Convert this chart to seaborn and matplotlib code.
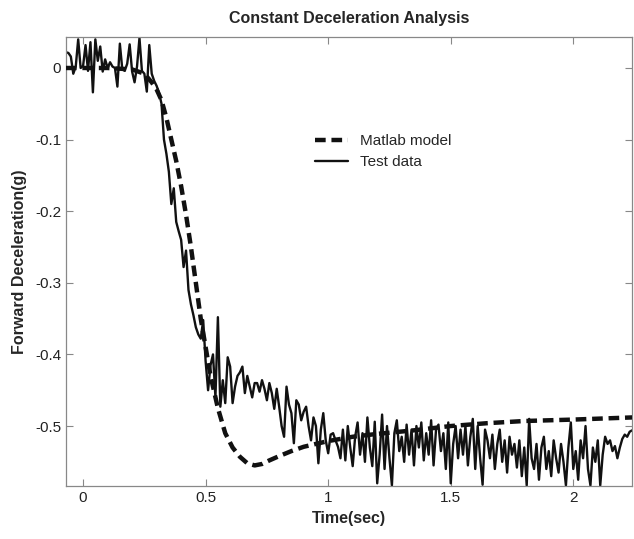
import numpy as np
import pandas as pd
import matplotlib
matplotlib.use("Agg")
import matplotlib.pyplot as plt
import seaborn as sns

# Matlab model (smooth curve)
model_t = [-0.07, 0.0, 0.1, 0.2, 0.25, 0.28, 0.30, 0.32, 0.34, 0.36, 0.38, 0.40,
           0.42, 0.44, 0.46, 0.48, 0.50, 0.52, 0.55, 0.58, 0.61, 0.64, 0.67, 0.70,
           0.73, 0.76, 0.80, 0.85, 0.90, 0.95, 1.0, 1.1, 1.2, 1.35, 1.5, 1.65,
           1.8, 2.0, 2.24]
model_g = [0.0, 0.0, 0.0, -0.002, -0.008, -0.02, -0.03, -0.045, -0.07, -0.10, -0.13, -0.165,
           -0.205, -0.25, -0.30, -0.35, -0.39, -0.43, -0.475, -0.51, -0.530, -0.543, -0.552, -0.555,
           -0.553, -0.548, -0.542, -0.535, -0.529, -0.525, -0.521, -0.515, -0.511, -0.506, -0.500, -0.496,
           -0.493, -0.491, -0.488]

# Test data, sampled every 0.01 s from -0.07 s
test_start = -0.07
test_step = 0.01
test_g = [
    0.022, 0.021, 0.016, -0.008, 0.002, 0.040, 0.000, 0.003, 0.032, -0.004,
    0.036, -0.034, 0.040, 0.010, 0.030, -0.005, 0.012, 0.000, 0.008, 0.002,
    0.000, -0.026, 0.034, -0.002, -0.004, 0.006, 0.033, -0.005, -0.020, 0.002,
    0.042, -0.004, -0.008, -0.033, 0.032, -0.008, -0.018, -0.025, -0.035, -0.050,
    -0.100, -0.120, -0.145, -0.190, -0.168, -0.215, -0.228, -0.240, -0.278, -0.255,
    -0.310, -0.330, -0.345, -0.362, -0.372, -0.378, -0.352, -0.410, -0.450, -0.415,
    -0.400, -0.460, -0.348, -0.473, -0.436, -0.468, -0.404, -0.417, -0.468, -0.445,
    -0.430, -0.425, -0.417, -0.454, -0.430, -0.445, -0.460, -0.440, -0.440, -0.452,
    -0.436, -0.448, -0.464, -0.440, -0.454, -0.476, -0.448, -0.473, -0.500, -0.515,
    -0.445, -0.470, -0.482, -0.524, -0.464, -0.470, -0.492, -0.480, -0.473, -0.500,
    -0.520, -0.488, -0.500, -0.552, -0.505, -0.482, -0.520, -0.538, -0.512, -0.510,
    -0.520, -0.529,
    -0.545, -0.505, -0.548, -0.500, -0.530, -0.556, -0.515, -0.495, -0.540, -0.510,
    -0.550, -0.488, -0.530, -0.556, -0.494, -0.580, -0.540, -0.484, -0.560, -0.500,
    -0.545, -0.583, -0.510, -0.492, -0.535, -0.515, -0.550, -0.498, -0.540, -0.505,
    -0.555, -0.500, -0.530, -0.495, -0.548, -0.510, -0.540, -0.492, -0.555, -0.505,
    -0.498, -0.535, -0.510, -0.560, -0.495, -0.580, -0.525, -0.500, -0.545, -0.505,
    -0.540, -0.500, -0.555, -0.515, -0.490, -0.560, -0.500, -0.545, -0.582, -0.505,
    -0.520, -0.545, -0.512, -0.560, -0.525, -0.505, -0.550, -0.520, -0.565, -0.515,
    -0.540, -0.525, -0.558, -0.520, -0.570, -0.530, -0.583, -0.490, -0.545, -0.560,
    -0.525, -0.575, -0.530, -0.515, -0.560, -0.535, -0.570, -0.520, -0.545, -0.565,
    -0.525, -0.550, -0.583, -0.530, -0.495, -0.560, -0.535, -0.575, -0.520, -0.545,
    -0.500, -0.560, -0.583, -0.530, -0.550, -0.520, -0.583, -0.540, -0.515, -0.525,
    -0.520, -0.535, -0.528, -0.545, -0.530, -0.518, -0.512, -0.515, -0.508, -0.506,
]
test_t = test_start + test_step * np.arange(len(test_g))

x_ticks = [0, 0.5, 1, 1.5, 2]
x_labels = ["0", "0.5", "1", "1.5", "2"]
y_ticks = [0, -0.1, -0.2, -0.3, -0.4, -0.5]
y_labels = ["0", "-0.1", "-0.2", "-0.3", "-0.4", "-0.5"]

sns.set_style("ticks")
plt.rcParams["font.family"] = ["Liberation Sans", "DejaVu Sans"]
plt.rcParams["axes.unicode_minus"] = False

fig = plt.figure(figsize=(6.34, 5.39), dpi=100)
ax = fig.add_axes([0.104, 0.098, 0.893, 0.833])

model_df = pd.DataFrame({"t": model_t, "g": model_g})
test_df = pd.DataFrame({"t": test_t, "g": test_g})

sns.lineplot(data=test_df, x="t", y="g", ax=ax, color="#111111", linewidth=1.7,
             label="Test data", zorder=2)
sns.lineplot(data=model_df, x="t", y="g", ax=ax, color="#111111", linewidth=3.2,
             dashes=False, label="Matlab model", zorder=3)
ax.lines[-1].set_dashes([2.4, 1.3])

ax.set_xlim(-0.07, 2.24)
ax.set_ylim(-0.584, 0.043)
ax.set_xticks(x_ticks)
ax.set_xticklabels(x_labels)
ax.set_yticks(y_ticks)
ax.set_yticklabels(y_labels)
ax.tick_params(direction="in", top=True, right=True, length=5, width=0.8,
               colors="#888888", labelcolor="#222222", labelsize=11)
for s in ax.spines.values():
    s.set_color("#888888")
    s.set_linewidth(0.9)

ax.set_xlabel("Time(sec)", fontsize=11.5, fontweight="bold", labelpad=4)
ax.set_ylabel("Forward Deceleration(g)", fontsize=11.5, fontweight="bold", labelpad=6)
ax.set_title("Constant Deceleration Analysis", fontsize=11.5, fontweight="bold", pad=10)

handles, labels = ax.get_legend_handles_labels()
ax.legend(handles[::-1], labels[::-1], loc="upper left", bbox_to_anchor=(0.415, 0.815),
          frameon=False, fontsize=11, handlelength=2.2, labelspacing=0.45)

fig.savefig("out.png", dpi=100)
